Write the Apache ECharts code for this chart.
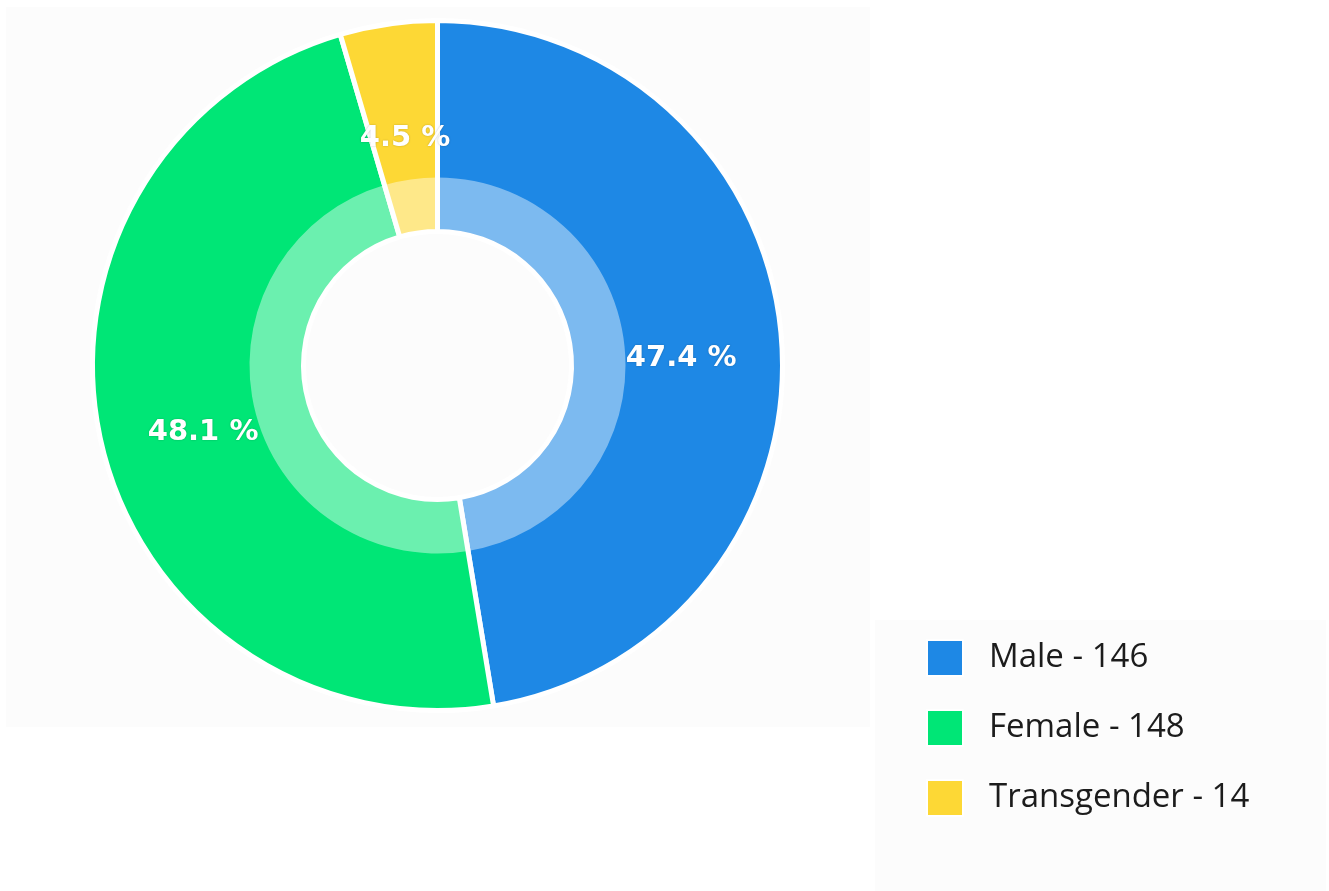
<!DOCTYPE html>
<html>
<head>
<meta charset="utf-8">
<title>Gender distribution</title>
<script src="https://cdn.jsdelivr.net/npm/echarts@6/dist/echarts.min.js"></script>
<style>
  html, body { margin: 0; padding: 0; background: #ffffff; }
  #chart { width: 1329px; height: 891px; }
</style>
</head>
<body>
<div id="chart"></div>
<script>
// Gender breakdown
const categories = ['Male', 'Female', 'Transgender'];
const counts = [146, 148, 14];
const colors = ['#1e88e5', '#00e676', '#fdd835'];

const total = counts.reduce((a, b) => a + b, 0);
const pieData = categories.map((name, i) => ({ name: name, value: counts[i] }));

const chart = echarts.init(document.getElementById('chart'), null, { renderer: 'canvas' });

const center = [437.5, 365.5];

chart.setOption({
  animation: false,
  color: colors,
  graphic: [
    { type: 'rect', z: -10, silent: true, shape: { x: 6, y: 7, width: 864, height: 720 }, style: { fill: '#fcfcfc' } },
    { type: 'rect', z: -10, silent: true, shape: { x: 875, y: 620, width: 451, height: 271 }, style: { fill: '#fcfcfc' } }
  ],
  legend: {
    orient: 'vertical',
    left: 921,
    top: 634,
    itemWidth: 36,
    itemHeight: 36,
    itemGap: 32,
    icon: 'rect',
    data: categories,
    formatter: function (name) {
      return name + ' - ' + counts[categories.indexOf(name)];
    },
    textStyle: {
      fontFamily: 'Open Sans',
      fontSize: 33,
      color: '#1c1c1c',
      padding: [0, 0, 0, 21]
    }
  },
  series: [
    {
      name: 'Gender',
      type: 'pie',
      center: center,
      radius: [134, 345],
      startAngle: 90,
      clockwise: true,
      data: pieData,
      itemStyle: { borderColor: '#ffffff', borderWidth: 5 },
      label: {
        show: true,
        position: 'inside',
        offset: [2, 13],
        formatter: function (p) {
          return (p.value / total * 100).toFixed(1) + ' %';
        },
        color: '#ffffff',
        fontFamily: 'DejaVu Sans',
        fontWeight: 'bold',
        fontSize: 29,
        textShadowColor: 'rgba(0,0,0,0.25)',
        textShadowBlur: 2
      },
      labelLine: { show: false },
      emphasis: { disabled: true }
    },
    {
      // translucent white band that lightens the inner part of the ring
      name: 'inner',
      type: 'pie',
      center: center,
      radius: [134, 188],
      startAngle: 90,
      clockwise: true,
      silent: true,
      z: 3,
      data: pieData,
      itemStyle: { color: 'rgba(255,255,255,0.42)', borderWidth: 0 },
      label: { show: false },
      labelLine: { show: false },
      emphasis: { disabled: true }
    }
  ]
});
</script>
</body>
</html>
